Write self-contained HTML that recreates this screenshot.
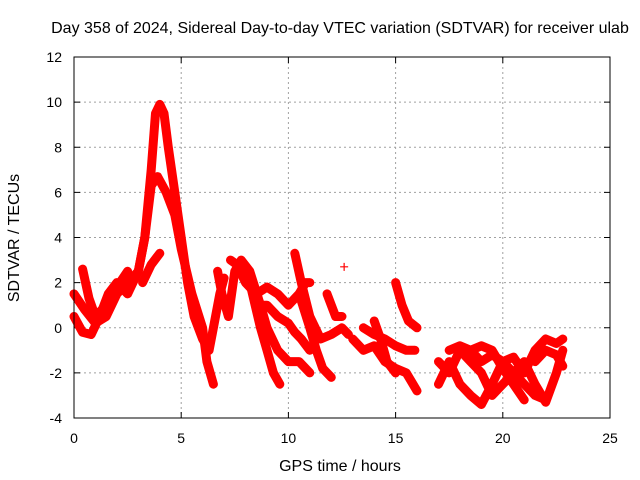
<!DOCTYPE html>
<html><head><meta charset="utf-8"><style>
body{margin:0;background:#fff}
svg{display:block;font-family:"Liberation Sans",sans-serif}
</style></head><body>
<svg id="c" width="640" height="480">
<text x="340" y="33" font-size="16" text-anchor="middle">Day 358 of 2024, Sidereal Day-to-day VTEC variation (SDTVAR) for receiver ulab</text>
<text transform="translate(19,238) rotate(-90)" font-size="16" text-anchor="middle">SDTVAR / TECUs</text>
<text x="340" y="471" font-size="16" text-anchor="middle">GPS time / hours</text>
<g id="grid"></g><g id="data"></g>
<rect x="74" y="57" width="536" height="361" fill="none" stroke="#000" stroke-width="1"/>
</svg>
<script>
const xTicks=[0,5,10,15,20,25];
const yTicks=[-4,-2,0,2,4,6,8,10,12];
const tracks=[
[[0,1.5],[0.5,0.8],[1,0.2],[1.5,0.5],[2,1.5],[2.5,2],[3,2.5],[3.3,4],[3.6,7],[3.8,9.5],[4,9.9],[4.2,9.5],[4.4,8],[4.7,6],[5,4],[5.3,2],[5.6,0.5],[6,-0.5],[6.3,-1],[6.5,0],[6.8,1.5],[7,2.2]],
[[0,0.5],[0.4,-0.2],[0.8,-0.3],[1.2,0.5],[1.6,1.5],[2,2],[2.5,1.5],[3,2.5],[3.3,4],[3.6,6.3],[3.9,6.7],[4.3,6],[4.7,5],[5,3.5],[5.5,1.5],[6,0],[6.2,-1.5],[6.5,-2.5]],
[[0.4,2.6],[0.7,1.3],[1,0.5],[1.5,1],[2,1.8],[2.5,2.5]],
[[3.2,2],[3.6,2.8],[4,3.3]],
[[6.7,2.5],[6.9,1.5],[7.2,0.5],[7.5,2.5],[7.8,3],[8.2,2.5],[8.7,1],[9,0],[9.5,-1],[10,-1.5],[10.5,-1.5],[11,-2]],
[[7.3,3],[7.6,2.8],[8,2],[8.5,1.5],[9,1.8],[9.5,1.5],[10,1],[10.5,1.5],[10.8,2],[11,2]],
[[8.2,2],[8.7,0],[9,-1],[9.3,-2],[9.6,-2.5]],
[[8.5,1],[9,1],[9.5,0.5],[10,0.2],[10.3,-0.2],[10.6,-0.5],[11,-1]],
[[10.3,3.3],[10.6,2],[11,0.5],[11.5,-0.5],[12,-0.3],[12.5,0],[12.8,-0.3]],
[[10.5,1.5],[11,0],[11.3,-1],[11.6,-1.8],[12,-2.2]],
[[11.8,1.5],[12.2,0.5],[12.5,0.5]],
[[13,-0.5],[13.5,-1],[14,-0.8],[14.5,-1.5],[15,-1.8],[15.5,-2],[16,-2.8]],
[[13.5,0],[14,-0.3],[14.5,-0.5],[15,-0.8],[15.5,-1],[15.9,-1]],
[[14,0.3],[14.3,-0.5],[14.6,-1.5],[15,-2]],
[[15,2],[15.3,1],[15.6,0.3],[16,0]],
[[12.6,2.7]],
[[17,-1.5],[17.5,-2],[18,-1],[18.5,-1.5],[19,-2],[19.5,-3],[20,-2.5],[20.5,-2],[21,-1.5],[21.5,-2.5],[22,-3.3],[22.5,-2],[22.8,-1]],
[[17,-2.5],[17.5,-1.5],[18,-2.5],[18.5,-3],[19,-3.4],[19.5,-2.5],[20,-1.5],[20.5,-1.3],[21,-2],[21.5,-1],[22,-0.5],[22.5,-0.7],[22.8,-0.5]],
[[17.5,-1],[18,-0.8],[18.5,-1],[19,-1.5],[19.5,-1.2],[20,-1.5],[20.5,-2],[21,-2.5],[21.5,-3],[22,-3.2]],
[[18.5,-1],[19,-0.8],[19.5,-1],[20,-1.8],[20.5,-2.5],[21,-3.2]],
[[21.5,-1.5],[22,-1],[22.5,-1.2],[22.8,-1.7]]
];
const X=h=>74+h*(536/25), Y=v=>418-(v+4)*(361/16);
const NS="http://www.w3.org/2000/svg";
const g=document.getElementById('grid'), d=document.getElementById('data');
function mk(tag,at,parent){const e=document.createElementNS(NS,tag);for(const k in at)e.setAttribute(k,at[k]);parent.appendChild(e);return e;}
xTicks.forEach(t=>{const x=X(t);
 if(t>0&&t<25){const l=mk('line',{x1:x,x2:x,y1:57,y2:418,stroke:'#a0a0a0','stroke-dasharray':'2,3'},g);
 
 }
 mk('line',{x1:x,x2:x,y1:418,y2:412,stroke:'#000'},g);mk('line',{x1:x,x2:x,y1:57,y2:63,stroke:'#000'},g);
 const tx=mk('text',{x:x,y:443,'font-size':14,'text-anchor':'middle'},g);tx.textContent=t;
 
 });
yTicks.forEach(t=>{const y=Y(t);
 if(t>-4&&t<12){const l=mk('line',{x1:74,x2:610,y1:y,y2:y,stroke:'#a0a0a0','stroke-dasharray':'2,3'},g);
 
 }
 mk('line',{x1:74,x2:80,y1:y,y2:y,stroke:'#000'},g);mk('line',{x1:610,x2:604,y1:y,y2:y,stroke:'#000'},g);
 const tx=mk('text',{x:62,y:y+5,'font-size':14,'text-anchor':'end'},g);tx.textContent=t;
 
 });
tracks.forEach(tr=>{
 const pts=tr.map(p=>X(p[0]).toFixed(1)+','+Y(p[1]).toFixed(1)).join(' ');
 if(tr.length>1){const pl=mk('polyline',{points:pts,fill:'none',stroke:'#f00','stroke-width':9,'stroke-linejoin':'round','stroke-linecap':'round'},d);
 
 }
 tr.forEach(p=>{const x=X(p[0]),y=Y(p[1]);
  const m=mk('path',{d:`M${x-4},${y}h8M${x},${y-4}v8`,stroke:'#f00','stroke-width':1.2},d);
  
  });
});
</script>
</body></html>
